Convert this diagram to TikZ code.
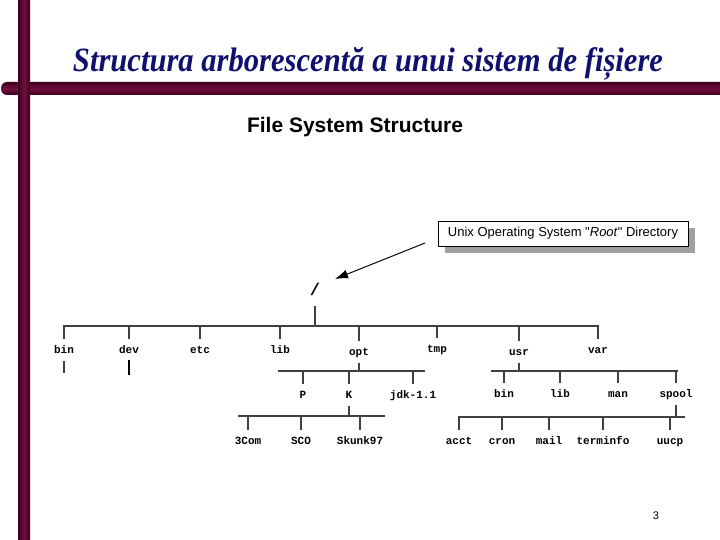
\documentclass[tikz,border=0pt]{standalone}
\usepackage{fontspec}
\usepackage{graphicx}
\setmainfont{Liberation Serif}
\newfontfamily\arialf{Liberation Sans}
\newfontfamily\monof{Liberation Mono}
\usetikzlibrary{arrows.meta,shadows}
\definecolor{barDark}{RGB}{62,0,32}
\definecolor{barLight}{RGB}{112,14,62}
\definecolor{titleblue}{RGB}{16,16,110}
\definecolor{shadowgray}{RGB}{160,160,160}
\tikzset{
  dirlbl/.style={font=\monof\bfseries\fontsize{11}{13}\selectfont, text height=8pt, text depth=2pt, inner xsep=1pt, inner ysep=6pt, anchor=base},
  tline/.style={line width=1.1pt, draw=black!75, line cap=rect},
}
\begin{document}
\begin{tikzpicture}[x=1pt,y=-1pt]
\useasboundingbox (0,0) rectangle (720,540);
% decorative bars
\shade[top color=barDark, bottom color=barDark, middle color=barLight, rounded corners=6pt] (1,82) rectangle (740,95);
\shade[left color=barDark, right color=barDark, middle color=barLight] (18,-5) rectangle (30,545);
% title
\node[anchor=base, text=titleblue, inner sep=0pt, font=\bfseries\itshape\fontsize{34}{40}\selectfont] (title) at (368,72) {\resizebox{590pt}{\height}{Structura arborescentă a unui sistem de fișiere}};
\node[anchor=base, inner sep=0pt, font=\arialf\bfseries\fontsize{21}{24}\selectfont] (fss) at (355,133) {File System Structure};
% callout
\node[draw=black, line width=0.8pt, fill=white, minimum width=250pt, minimum height=25pt, inner sep=0pt,
      drop shadow={shadow xshift=7pt, shadow yshift=-7pt, fill=shadowgray, opacity=1},
      font=\arialf\fontsize{13}{15}\selectfont] (callout) at (563,233.5) {Unix Operating System "\textit{Root}" Directory};
\coordinate (arrS) at (425,243);
\coordinate (arrE) at (335,279);
\draw[line width=1pt, -{Latex[length=13pt,width=9pt]}] (arrS) -- (arrE);
% root
\node[inner sep=0pt, minimum height=34pt, font=\monof\bfseries\fontsize{17}{17}\selectfont] (root) at (315,289) {/};
% level 1
\node[dirlbl] (bin) at (64,353) {bin};
\node[dirlbl] (dev) at (129,353) {dev};
\node[dirlbl] (etc) at (200,353) {etc};
\node[dirlbl] (lib) at (280,353) {lib};
\node[dirlbl] (opt) at (359,355) {opt};
\node[dirlbl] (tmp) at (437,352) {tmp};
\node[dirlbl] (usr) at (519,355) {usr};
\node[dirlbl] (var) at (598,353) {var};
\coordinate (B1) at (315,326);
\draw[tline] (B1 -| bin) -- (B1 -| var);
\draw[tline] (root.south) -- (B1);
\foreach \n in {bin,dev,etc,lib,opt,tmp,usr,var} \draw[tline] (B1 -| \n) -- (\n.north);
\coordinate (binEnd) at (64,372);
\coordinate (devEnd) at (129,374);
\draw[tline] (bin.south) -- (binEnd);
\draw[tline, line width=2pt, draw=black] (dev.south) -- (devEnd);
% opt subtree
\node[dirlbl] (P) at (303,398) {P};
\node[dirlbl] (K) at (349,398) {K};
\node[dirlbl] (jdk) at (413,398) {jdk-1.1};
\coordinate (OL) at (279,371);
\coordinate (OR) at (424,371);
\draw[tline] (OL) -- (OR);
\draw[tline] (opt.south) -- (opt |- OL);
\foreach \n in {P,K,jdk} \draw[tline] (OL -| \n) -- (\n.north);
% K subtree
\node[dirlbl] (com) at (248,444) {3Com};
\node[dirlbl] (sco) at (301,444) {SCO};
\node[dirlbl] (skunk) at (360,444) {Skunk97};
\coordinate (KL) at (239,416);
\coordinate (KR) at (384,416);
\draw[tline] (KL) -- (KR);
\draw[tline] (K.south) -- (K |- KL);
\foreach \n in {com,sco,skunk} \draw[tline] (KL -| \n) -- (\n.north);
% usr subtree
\node[dirlbl] (ubin) at (504,397) {bin};
\node[dirlbl] (ulib) at (560,397) {lib};
\node[dirlbl] (man) at (618,397) {man};
\node[dirlbl] (spool) at (676,397) {spool};
\coordinate (UL) at (492,371);
\coordinate (UR) at (677,371);
\draw[tline] (UL) -- (UR);
\draw[tline] (usr.south) -- (usr |- UL);
\foreach \n in {ubin,ulib,man,spool} \draw[tline] (UL -| \n) -- (\n.north);
% spool subtree
\node[dirlbl] (acct) at (459,444) {acct};
\node[dirlbl] (cron) at (502,444) {cron};
\node[dirlbl] (mail) at (549,444) {mail};
\node[dirlbl] (terminfo) at (603,444) {terminfo};
\node[dirlbl] (uucp) at (670,444) {uucp};
\coordinate (SL) at (459,417);
\coordinate (SR) at (684,417);
\draw[tline] (SL) -- (SR);
\draw[tline] (spool.south) -- (spool |- SL);
\foreach \n in {acct,cron,mail,terminfo,uucp} \draw[tline] (SL -| \n) -- (\n.north);
% page number
\node[inner sep=0pt, font=\arialf\fontsize{11}{13}\selectfont] (pg) at (656,516) {3};
\end{tikzpicture}
\end{document}
